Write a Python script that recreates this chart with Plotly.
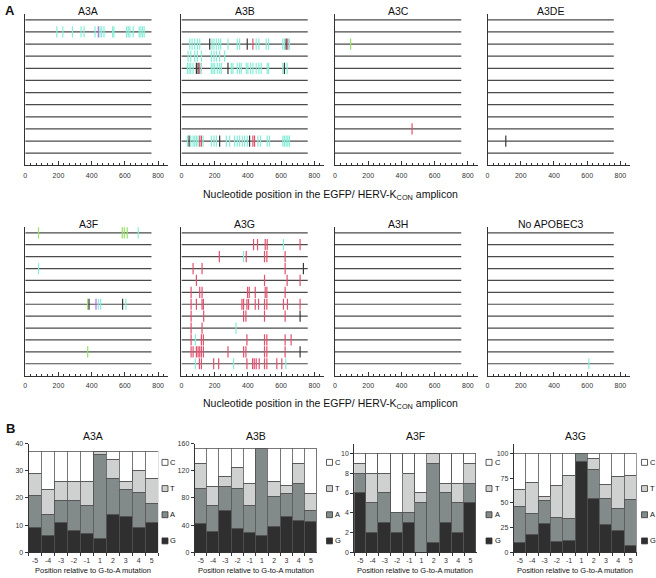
import plotly.graph_objects as go

W, H = 656, 578
FONT = "Liberation Sans, Arial, sans-serif"

# ---------------- Panel A data: (sequence row, nucleotide position, context) ----------------
AMPLICON_LEN = 760
N_SEQ = 12
A_PANELS = ["A3A", "A3B", "A3C", "A3DE", "A3F", "A3G", "A3H", "No APOBEC3"]

A3A_MUT = [(2, p, "GA") for p in [190, 226, 284, 336, 354, 420, 450, 460, 474, 526, 534,
                                   610, 620, 630, 650, 686, 696, 706, 716]] + [(2, 440, "GT")]
A3B_MUT = (
    [(3, p, "GA") for p in [50, 64, 80, 96, 110, 184, 196, 210, 224, 236, 280, 336, 350,
                            450, 466, 510, 524, 610, 620, 650]]
    + [(3, 170, "other"), (3, 396, "other"), (3, 630, "other"), (3, 430, "GG"), (3, 640, "GG")]
    + [(4, p, "GA") for p in [40, 56, 80, 96, 120, 180, 196, 210, 230, 260]]
    + [(5, p, "GA") for p in [36, 46, 56, 70, 120, 180, 190, 200, 216, 230, 240, 300, 310,
                              336, 350, 360, 390, 400, 416, 430, 450, 466, 480, 516, 524, 610, 636]]
    + [(5, 90, "other"), (5, 100, "other"), (5, 280, "other"), (5, 620, "other"), (5, 110, "GG")]
    + [(11, p, "GA") for p in [36, 56, 70, 80, 90, 100, 130, 180, 196, 210, 270, 290, 320,
                               336, 350, 366, 380, 396, 460, 476, 516, 530, 610, 620, 630, 640, 650]]
    + [(11, 46, "other"), (11, 230, "other"), (11, 410, "other"),
       (11, 110, "GG"), (11, 120, "GG"), (11, 430, "GG"), (11, 440, "GG")]
)
A3C_MUT = [(3, 94, "GC"), (10, 464, "GG")]
A3DE_MUT = [(11, 110, "other")]
A3F_MUT = [
    (1, 80, "GC"), (1, 584, "GC"), (1, 596, "GC"), (1, 614, "GC"), (1, 680, "GA"),
    (4, 80, "GA"),
    (7, 376, "GC"), (7, 384, "other"), (7, 426, "GT"), (7, 440, "GA"), (7, 454, "GA"),
    (7, 586, "other"), (7, 606, "GA"),
    (11, 376, "GC"),
]
A3G_MUT = (
    [(2, p, "GG") for p in [434, 458, 504, 516, 714]] + [(2, 614, "GA")]
    + [(3, p, "GG") for p in [228, 390, 500, 514, 624]] + [(3, 374, "GA")]
    + [(4, p, "GG") for p in [70, 124, 624]] + [(4, 734, "other")]
    + [(5, p, "GG") for p in [90, 500, 636, 714]]
    + [(6, p, "GG") for p in [58, 110, 124, 398, 408, 444, 504, 514, 624]]
    + [(7, p, "GG") for p in [58, 90, 124, 132, 364, 374, 394, 404, 444, 464, 500, 514,
                              614, 638, 714]]
    + [(8, p, "GG") for p in [58, 134, 374, 388, 500, 624]] + [(8, 714, "other")]
    + [(9, p, "GG") for p in [58, 124]] + [(9, 328, "GA")]
    + [(10, p, "GG") for p in [58, 120, 132, 394, 500, 514, 624, 660]] + [(10, 84, "GA")]
    + [(11, p, "GG") for p in [58, 70, 90, 100, 110, 120, 132, 280, 374, 388, 500, 514, 624]]
    + [(11, 714, "other")]
    + [(12, p, "GG") for p in [108, 120, 194, 224, 394, 428, 438, 450, 468, 500, 514, 574, 604]]
    + [(12, 84, "GA"), (12, 314, "GA"), (12, 628, "GA")]
)
A3H_MUT = []
NOA3_MUT = [(12, 610, "GA")]
A_MUTS = [A3A_MUT, A3B_MUT, A3C_MUT, A3DE_MUT, A3F_MUT, A3G_MUT, A3H_MUT, NOA3_MUT]
CONTEXT_COLORS = {"GG": "#e4506e", "GA": "#86eed8", "GC": "#98e068", "GT": "#b86ae6",
                  "other": "#383838"}

# ---------------- Panel B data: counts of G/A/T/C around each G-to-A site ----------------
B_PANELS = ["A3A", "A3B", "A3F", "A3G"]
REL_POS = ["-5", "-4", "-3", "-2", "-1", "1", "2", "3", "4", "5"]
BASES = ["G", "A", "T", "C"]
BASE_COLORS = {"G": "#2f2f2f", "A": "#838b8a", "T": "#cfd1d1", "C": "#ffffff"}

A3A_G = [9, 6, 11, 8, 7, 5, 14, 13, 9, 11]
A3A_A = [12, 8, 8, 11, 10, 31, 13, 10, 13, 7]
A3A_T = [8, 9, 7, 7, 9, 1, 7, 3, 8, 9]
A3A_C = [8, 14, 11, 11, 11, 0, 3, 11, 7, 10]

A3B_G = [42, 31, 62, 35, 29, 24, 38, 53, 46, 45]
A3B_A = [52, 37, 35, 59, 39, 129, 44, 33, 55, 16]
A3B_T = [36, 29, 15, 30, 33, 0, 22, 12, 29, 25]
A3B_C = [23, 56, 41, 29, 52, 0, 49, 55, 23, 67]

A3F_G = [6, 2, 3, 2, 3, 0, 1, 3, 2, 5]
A3F_A = [2, 3, 3, 2, 1, 5, 8, 3, 3, 2]
A3F_T = [1, 3, 2, 0, 4, 1, 1, 1, 2, 2]
A3F_C = [1, 2, 2, 6, 2, 4, 0, 3, 3, 1]

A3G_G = [10, 18, 29, 11, 12, 92, 54, 28, 22, 7]
A3G_A = [36, 21, 23, 24, 22, 8, 30, 26, 22, 46]
A3G_T = [17, 32, 4, 32, 44, 0, 11, 14, 33, 25]
A3G_C = [37, 29, 44, 33, 22, 0, 5, 32, 23, 22]

B_DATA = [
    dict(G=A3A_G, A=A3A_A, T=A3A_T, C=A3A_C),
    dict(G=A3B_G, A=A3B_A, T=A3B_T, C=A3B_C),
    dict(G=A3F_G, A=A3F_A, T=A3F_T, C=A3F_C),
    dict(G=A3G_G, A=A3G_A, T=A3G_T, C=A3G_C),
]
B_YRANGE = [40, 160, 11, 110]
B_DTICK = [10, 40, 2, 25]


def fx(px):
    return px / W


def fy(px):
    return 1 - px / H


def label(text, x, y, size, xref="paper", xanchor="center"):
    return dict(text=text, x=x, y=fy(y), xref=xref, yref="paper", showarrow=False,
                xanchor=xanchor, yanchor="middle",
                font=dict(size=size, color="#111", family=FONT))


fig = go.Figure()
layout = {}
annotations = []
shapes = []

# ---------------- Panel A ----------------
a_left = [23.3, 180.0, 334.0, 487.0]
a_xmax = 860
a_width = a_xmax * 33.33 / 200
a_rows = [(9.9, 163.3), (225.6, 376.2)]

for i, name in enumerate(A_PANELS):
    k = i + 1
    col, row = i % 4, i // 4
    top, bottom = a_rows[row]
    xa, ya = f"x{k}", f"y{k}"
    # sequence lines
    xs, ys = [], []
    for s in range(1, N_SEQ + 1):
        xs += [0, AMPLICON_LEN, None]
        ys += [s, s, None]
    fig.add_trace(go.Scatter(x=xs, y=ys, mode="lines", xaxis=xa, yaxis=ya,
                             line=dict(color="#4a4a4a", width=1.2),
                             hoverinfo="skip", showlegend=False))
    muts = A_MUTS[i]
    for ctx, color in CONTEXT_COLORS.items():
        pts = [m for m in muts if m[2] == ctx]
        if not pts:
            continue
        fig.add_trace(go.Scatter(
            x=[p[1] for p in pts], y=[p[0] for p in pts], mode="markers",
            xaxis=xa, yaxis=ya, showlegend=False,
            marker=dict(symbol="line-ns", size=8, line=dict(width=1.2, color=color)),
        ))
    layout[f"xaxis{k}"] = dict(
        domain=[fx(a_left[col]), fx(a_left[col] + a_width)], anchor=ya,
        range=[0, a_xmax], showgrid=False, zeroline=False,
        showline=True, linecolor="#333", linewidth=1,
        ticks="inside", ticklen=4, tickcolor="#333", dtick=200, tick0=0,
        ticklabelstandoff=3,
        tickfont=dict(size=7, color="#333", family=FONT),
        minor=dict(ticks="inside", ticklen=2, dtick=200 / 6, tickcolor="#333"),
    )
    layout[f"yaxis{k}"] = dict(
        domain=[fy(bottom), fy(top)], anchor=xa, range=[N_SEQ + 1, 0.5],
        showgrid=False, zeroline=False, showticklabels=False,
        showline=True, linecolor="#333", linewidth=1,
    )
    annotations.append(label(name, AMPLICON_LEN / 2, top - 3, 10.5, xref=xa))

for ypx in [193, 405]:
    annotations.append(label("Nucleotide position in the EGFP/ HERV-K<sub>CON</sub> amplicon",
                             fx(330), ypx, 10.5))

# ---------------- Panel B ----------------
b_left = [26.7, 193.3, 353.3, 513.3]
b_right = [156.7, 316.0, 476.0, 636.7]
b_legend_x = [160.5, 325.5, 485.5, 641.5]
b_top, b_bottom = 445, 555
legend_y = {"C": 464, "T": 490.5, "A": 517, "G": 543.5}

for j, name in enumerate(B_PANELS):
    k = 9 + j
    xa, ya = f"x{k}", f"y{k}"
    for base in BASES:
        fig.add_trace(go.Bar(
            x=REL_POS, y=B_DATA[j][base], name=base, xaxis=xa, yaxis=ya,
            marker=dict(color=BASE_COLORS[base], line=dict(color="#555", width=0.8)),
            showlegend=False,
        ))
    layout[f"xaxis{k}"] = dict(
        domain=[fx(b_left[j]), fx(b_right[j])], anchor=ya, type="category",
        showgrid=False, zeroline=False, showline=True, linecolor="#333", linewidth=1,
        ticks="outside", tickson="boundaries", ticklen=3, tickcolor="#333",
        tickangle=0, ticklabelstandoff=1,
        tickfont=dict(size=7, color="#333", family=FONT),
    )
    layout[f"yaxis{k}"] = dict(
        domain=[fy(b_bottom), fy(b_top)], anchor=xa, range=[0, B_YRANGE[j]],
        dtick=B_DTICK[j], showgrid=False, zeroline=False,
        showline=True, linecolor="#333", linewidth=1,
        ticks="outside", ticklen=3, tickcolor="#333",
        tickfont=dict(size=7, color="#333", family=FONT),
    )
    annotations.append(label(name, 0.5, 437, 10.5, xref=f"{xa} domain"))
    annotations.append(label("Position relative to G-to-A mutation", 0.5, 573.5, 7.5,
                             xref=f"{xa} domain"))
    for base in BASES:
        cy = legend_y[base]
        lx = b_legend_x[j]
        shapes.append(dict(
            type="rect", xref="paper", yref="paper",
            x0=fx(lx), x1=fx(lx + 6), y0=fy(cy + 3), y1=fy(cy - 3),
            fillcolor=BASE_COLORS[base], line=dict(color="#333", width=0.8)))
        annotations.append(label(base, fx(lx + 6.5), cy, 7.5, xanchor="left"))

# panel letters
annotations.append(label("<b>A</b>", fx(1), 7, 13, xanchor="left"))
annotations.append(label("<b>B</b>", fx(2), 430, 13, xanchor="left"))

fig.update_layout(
    width=W, height=H,
    margin=dict(l=0, r=0, t=0, b=0),
    paper_bgcolor="white", plot_bgcolor="white",
    barmode="stack", bargap=0,
    font=dict(family=FONT, color="#111"),
    annotations=annotations, shapes=shapes,
    **layout,
)

fig.write_html("out.html", config={"displayModeBar": False},
               post_script="document.body.style.margin='0';")
